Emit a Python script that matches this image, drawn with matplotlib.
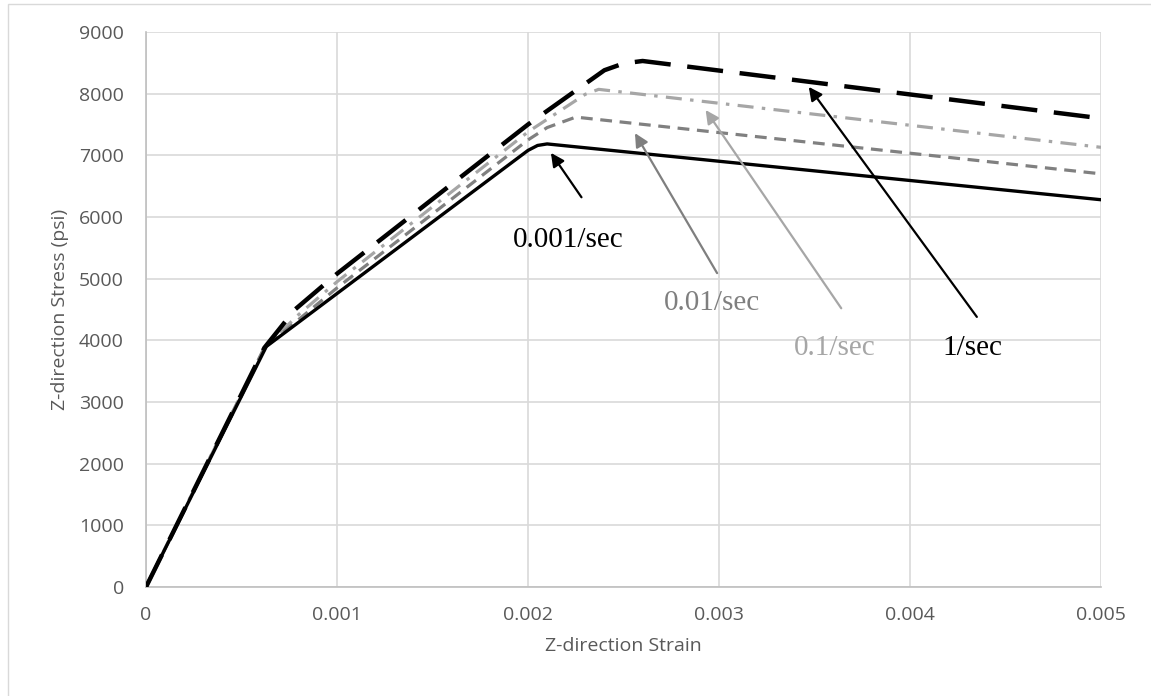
import matplotlib
matplotlib.use("Agg")
import matplotlib.pyplot as plt
from matplotlib.patches import Rectangle

# strain / stress points, one curve per strain rate
strain_1 = [0, 0.00062, 0.00078, 0.001, 0.002, 0.0024, 0.0025, 0.0026, 0.005]
stress_1 = [0, 3880, 4500, 5080, 7500, 8380, 8490, 8530, 7600]

strain_01 = [0, 0.00062, 0.0008, 0.001, 0.002, 0.0023, 0.00237, 0.005]
stress_01 = [0, 3880, 4420, 4950, 7380, 7990, 8070, 7130]

strain_001 = [0, 0.00062, 0.001, 0.002, 0.0021, 0.00225, 0.005]
stress_001 = [0, 3880, 4850, 7250, 7450, 7620, 6700]

strain_0001 = [0, 0.00063, 0.002, 0.00205, 0.0021, 0.005]
stress_0001 = [0, 3900, 7080, 7160, 7185, 6280]

rate_labels = ["0.001/sec", "0.01/sec", "0.1/sec", "1/sec"]
label_colors = ["black", "#7f7f7f", "#a6a6a6", "black"]
label_pos = [(0.00192, 5630), (0.00271, 4600), (0.00339, 3875), (0.00417, 3875)]
arrow_tail = [(0.00228, 6320), (0.00299, 5090), (0.00364, 4520), (0.00435, 4380)]
arrow_head = [(0.00212, 7040), (0.00256, 7360), (0.00293, 7735), (0.00347, 8110)]

plt.rcParams["lines.scale_dashes"] = False
plt.rcParams["font.family"] = ["Open Sans", "DejaVu Sans"]

fig = plt.figure(figsize=(11.51, 6.96), dpi=100)
fig.set_facecolor("white")
ax = fig.add_axes([146 / 1151, 109 / 696, 955 / 1151, 555 / 696])

# chart area border (Excel style)
fig.patches.append(
    Rectangle((8 / 1151, -0.1), 1.2, 1.094, transform=fig.transFigure,
              fill=False, edgecolor="#d9d9d9", lw=1.0)
)

ax.plot(strain_01, stress_01, color="#a6a6a6", lw=2.3, dashes=[11.5, 6, 2.5, 6], zorder=3)
ax.plot(strain_001, stress_001, color="#808080", lw=2.3, dashes=[8.5, 5.5], zorder=3)
ax.plot(strain_1, stress_1, color="black", lw=3.2, dashes=[26, 12], zorder=3)
ax.plot(strain_0001, stress_0001, color="black", lw=2.4, zorder=4)

for lab, col, pos, tail, head in zip(rate_labels, label_colors, label_pos, arrow_tail, arrow_head):
    ax.annotate("", xy=head, xytext=tail,
                arrowprops=dict(arrowstyle="-|>", color=col, lw=1.6,
                                mutation_scale=20, shrinkA=0, shrinkB=0),
                zorder=5)
    ax.text(pos[0], pos[1], lab, color=col, fontsize=21, family="Liberation Serif",
            ha="left", va="center", zorder=5)

ax.set_xlim(0, 0.005)
ax.set_ylim(0, 9000)
ax.set_xticks([0, 0.001, 0.002, 0.003, 0.004, 0.005])
ax.set_xticklabels(["0", "0.001", "0.002", "0.003", "0.004", "0.005"])
ax.set_yticks(range(0, 9001, 1000))
ax.grid(True, color="#d9d9d9", lw=1.2)
ax.set_axisbelow(True)
for side in ["top", "right"]:
    ax.spines[side].set_visible(False)
for side in ["left", "bottom"]:
    ax.spines[side].set_color("#bfbfbf")
    ax.spines[side].set_linewidth(1.2)
ax.tick_params(length=0, labelsize=14, colors="#595959")
ax.tick_params(axis="x", pad=14)
ax.tick_params(axis="y", pad=16)

ax.set_xlabel("Z-direction Strain", fontsize=14, color="#595959", labelpad=9)
ax.set_ylabel("Z-direction Stress (psi)", fontsize=14, color="#595959", labelpad=7)

fig.savefig("out.png", dpi=100)
